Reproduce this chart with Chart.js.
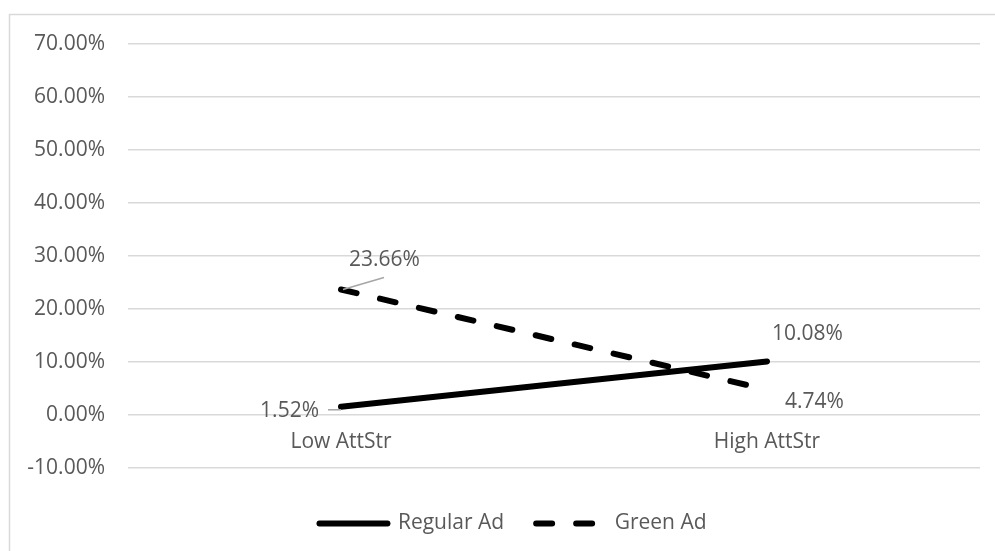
<!DOCTYPE html>
<html>
<head>
<meta charset="utf-8">
<script src="https://cdn.jsdelivr.net/npm/chart.js@4.4.1/dist/chart.umd.min.js"></script>
<style>
  html, body { margin: 0; padding: 0; background: #fff; }
  #wrap { width: 995px; height: 551px; position: relative; }
</style>
</head>
<body>
<div id="wrap"><canvas id="chart"></canvas></div>
<script>
const categories = ["Low AttStr", "High AttStr"];
const regularAd = [0.0152, 0.1008];
const greenAd = [0.2366, 0.0474];
const seriesNames = ["Regular Ad", "Green Ad"];

// where each value label sits relative to its point: [dx, dy, align, leader]
const labelSpots = [
    [[-22, 4, "right", true], [5, -27, "left", false]],
    [[8, -29, "left", true], [18, 12, "left", false]]
];

const textColor = "#595959";
const fontFamily = "'Open Sans', sans-serif";

function pct(v) {
    let p = Math.round(v * 10000) / 100;
    if (Math.abs(p) < 0.001) p = 0;
    return p.toFixed(2) + "%";
}

const frame = {
    id: "frame",
    beforeDraw(chart) {
        let ctx = chart.ctx;
        ctx.save();
        ctx.strokeStyle = "#d9d9d9";
        ctx.lineWidth = 1.5;
        ctx.beginPath();
        ctx.moveTo(9.5, 551);
        ctx.lineTo(9.5, 14.5);
        ctx.lineTo(995, 14.5);
        ctx.stroke();
        ctx.restore();
    }
};

// the legend sits a bit right of the canvas centre in the original
const legendShift = {
    id: "legendShift",
    afterLayout(chart) {
        if (chart.legend) {
            chart.legend.left += 23;
            chart.legend.right += 23;
        }
    }
};

const valueLabels = {
    id: "valueLabels",
    afterDatasetsDraw(chart) {
        let ctx = chart.ctx;
        ctx.save();
        ctx.font = "21px " + fontFamily;
        ctx.textBaseline = "middle";
        chart.data.datasets.forEach(function (ds, di) {
            let meta = chart.getDatasetMeta(di);
            meta.data.forEach(function (pt, i) {
                let spot = labelSpots[di][i];
                let tx = pt.x + spot[0];
                let ty = pt.y + spot[1];
                let text = pct(ds.data[i]);
                if (spot[3]) {
                    ctx.strokeStyle = "#a6a6a6";
                    ctx.lineWidth = 1.5;
                    ctx.beginPath();
                    if (spot[2] === "right") {
                        ctx.moveTo(tx + 9, ty - 1);
                        ctx.lineTo(pt.x, ty - 1);
                    } else {
                        ctx.moveTo(pt.x + 2, pt.y);
                        ctx.lineTo(tx + 35, ty + 17);
                    }
                    ctx.stroke();
                }
                ctx.fillStyle = textColor;
                ctx.textAlign = spot[2];
                ctx.fillText(text, tx, ty);
            });
        });
        ctx.restore();
    }
};

let ctx = document.getElementById("chart").getContext("2d");
new Chart(ctx, {
    type: "line",
    data: {
        labels: categories,
        datasets: [{
            label: seriesNames[0],
            data: regularAd,
            borderColor: "#000",
            backgroundColor: "#000",
            borderWidth: 6,
            borderCapStyle: "round",
            pointRadius: 0,
            fill: false
        }, {
            label: seriesNames[1],
            data: greenAd,
            borderColor: "#000",
            backgroundColor: "#000",
            borderWidth: 6,
            borderCapStyle: "round",
            borderDash: [16, 24],
            pointRadius: 0,
            fill: false
        }]
    },
    options: {
        responsive: true,
        maintainAspectRatio: false,
        animation: false,
        layout: { padding: { left: 0, right: 15, top: 44, bottom: 7 } },
        plugins: {
            legend: {
                position: "bottom",
                title: { display: true, text: " ", font: { size: 1 }, padding: { top: 0, bottom: 12 } },
                labels: {
                    usePointStyle: true,
                    pointStyle: "line",
                    pointStyleWidth: 68,
                    padding: 32,
                    color: textColor,
                    font: { family: fontFamily, size: 21 },
                    generateLabels(chart) {
                        let items = Chart.defaults.plugins.legend.labels.generateLabels(chart);
                        items.forEach(function (item) {
                            let ds = chart.data.datasets[item.datasetIndex];
                            item.lineDash = ds.borderDash || [];
                            item.lineCap = "round";
                            item.lineWidth = 6;
                            item.strokeStyle = "#000";
                        });
                        return items;
                    }
                }
            },
            tooltip: { enabled: false }
        },
        scales: {
            x: {
                type: "category",
                offset: true,
                position: { y: 0 },
                grid: { display: false },
                border: { display: false },
                ticks: {
                    color: textColor,
                    padding: 7,
                    font: { family: fontFamily, size: 21 }
                }
            },
            y: {
                min: -0.1,
                max: 0.7,
                afterFit(scale) { scale.width = 128; },
                grid: { color: "#d9d9d9", lineWidth: 1.5, drawTicks: false },
                border: { display: false },
                ticks: {
                    stepSize: 0.1,
                    padding: 23,
                    color: textColor,
                    font: { family: fontFamily, size: 21 },
                    callback: function (v) { return pct(v); }
                }
            }
        }
    },
    plugins: [frame, legendShift, valueLabels]
});
</script>
</body>
</html>
